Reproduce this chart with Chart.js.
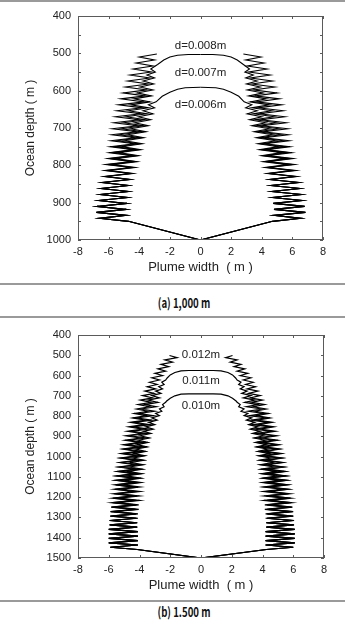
<!DOCTYPE html>
<html>
<head>
<meta charset="utf-8">
<script src="https://cdn.jsdelivr.net/npm/chart.js@4.4.1/dist/chart.umd.min.js"></script>
<style>
  body { margin: 0; background: #fff; width: 345px; height: 624px; position: relative; overflow: hidden; }
  .rule { position: absolute; left: 0; width: 345px; height: 2px; background: #9a9a9a; }
  canvas { position: absolute; left: 0; }
  .cap { position: absolute; left: 184px; transform: translate(-50%, -50%) scaleX(0.74);
         font-family: "Noto Sans CJK KR"; font-weight: 700; font-size: 13px; color: #111; white-space: nowrap; }
</style>
</head>
<body>
<div class="rule" style="top:0"></div>
<canvas id="c1" width="345" height="278" style="top:2px"></canvas>
<div class="rule" style="top:283px"></div>
<div class="cap" style="top:302px">(a) 1,000 m</div>
<div class="rule" style="top:316px"></div>
<canvas id="c2" width="345" height="278" style="top:320px"></canvas>
<div class="rule" style="top:600px"></div>
<div class="cap" style="top:611px">(b) 1.500 m</div>
<script>
// ---- (a) 1,000 m : depth of each vertex, plume half-width left / right ----
var c1Depth1 = [1000, 950, 942, 934, 926, 918, 910, 902, 894, 886, 878, 870, 862, 854, 846, 838, 830, 822, 814, 806, 798, 790, 782, 774, 766, 758, 750, 742, 734, 726, 718, 710, 702, 694, 686, 678, 670, 662, 654, 646, 638, 630, 622, 614, 606, 598, 590, 582, 574, 566, 558, 550, 542, 534, 526, 518, 510, 502];
var c1Left1 = [0, -4.7, -6.6, -4.85, -6.8, -4.85, -6.75, -4.8, -6.65, -4.75, -6.55, -4.7, -6.5, -4.7, -6.45, -4.65, -6.3, -4.6, -6.25, -4.55, -6.2, -4.5, -6.05, -4.45, -5.95, -4.4, -5.9, -4.3, -5.85, -4.25, -5.8, -4.15, -5.75, -4.1, -5.65, -4.0, -5.55, -3.9, -5.45, -3.8, -5.35, -3.7, -5.2, -3.6, -5.05, -3.5, -4.9, -3.4, -4.75, -3.3, -4.6, -3.2, -4.4, -3.1, -4.2, -3.0, -4.0, -2.85];
var c1Right1 = [0, 4.7, 6.55, 4.8, 6.85, 4.8, 6.8, 4.75, 6.65, 4.7, 6.6, 4.65, 6.5, 4.6, 6.45, 4.55, 6.3, 4.5, 6.25, 4.45, 6.15, 4.4, 6.05, 4.35, 5.95, 4.3, 5.85, 4.2, 5.8, 4.15, 5.75, 4.1, 5.7, 4.0, 5.6, 3.95, 5.5, 3.85, 5.4, 3.75, 5.3, 3.65, 5.15, 3.55, 5.0, 3.45, 4.85, 3.35, 4.7, 3.25, 4.55, 3.15, 4.35, 3.05, 4.15, 2.95, 3.95, 2.8];

var c1Depth2 = [1000, 950, 942, 934, 926, 918, 910, 902, 894, 886, 878, 870, 862, 854, 846, 838, 830, 822, 814, 806, 798, 790, 782, 774, 766, 758, 750, 742, 734, 726, 718, 710, 702, 694, 686, 678, 670, 662, 654, 646, 638, 630, 622, 614, 606, 598, 590, 582, 574, 566, 558, 550, 542, 530, 518, 510, 505, 503, 503];
var c1Left2 = [0, -4.7, -6.6, -4.85, -6.8, -4.85, -6.75, -4.8, -6.65, -4.75, -6.55, -4.7, -6.5, -4.7, -6.45, -4.6, -6.25, -4.5, -6.15, -4.4, -6.05, -4.3, -5.9, -4.2, -5.75, -4.1, -5.6, -4.0, -5.45, -3.9, -5.3, -3.8, -5.15, -3.7, -5.0, -3.6, -4.85, -3.5, -4.7, -3.4, -4.55, -3.3, -4.35, -3.2, -4.15, -3.1, -3.95, -3.05, -3.75, -3.0, -3.5, -2.95, -3.25, -2.8, -2.4, -2.0, -1.5, -0.8, 0];
var c1Right2 = [0, 4.7, 6.55, 4.8, 6.85, 4.8, 6.8, 4.75, 6.65, 4.7, 6.6, 4.65, 6.5, 4.6, 6.45, 4.5, 6.25, 4.45, 6.1, 4.35, 6.0, 4.25, 5.85, 4.15, 5.7, 4.05, 5.55, 3.95, 5.4, 3.85, 5.25, 3.75, 5.1, 3.65, 4.95, 3.55, 4.8, 3.45, 4.65, 3.35, 4.5, 3.25, 4.3, 3.15, 4.1, 3.05, 3.9, 3.0, 3.7, 2.95, 3.45, 2.9, 3.2, 2.8, 2.4, 2.0, 1.5, 0.8, 0];

var c1Depth3 = [1000, 950, 942, 934, 926, 918, 910, 902, 894, 886, 878, 870, 862, 854, 846, 838, 830, 822, 814, 806, 798, 790, 782, 774, 766, 758, 750, 742, 734, 726, 718, 710, 702, 694, 686, 678, 670, 662, 654, 646, 638, 630, 615, 604, 596, 592, 591];
var c1Left3 = [0, -4.7, -6.6, -4.85, -6.8, -4.85, -6.75, -4.8, -6.65, -4.75, -6.55, -4.7, -6.5, -4.7, -6.35, -4.55, -6.15, -4.4, -5.95, -4.25, -5.75, -4.15, -5.55, -4.05, -5.35, -3.9, -5.15, -3.8, -4.95, -3.7, -4.75, -3.55, -4.55, -3.4, -4.3, -3.25, -4.05, -3.1, -3.75, -3.0, -3.4, -2.9, -2.5, -2.0, -1.5, -1.0, 0];
var c1Right3 = [0, 4.7, 6.55, 4.8, 6.85, 4.8, 6.8, 4.75, 6.65, 4.7, 6.6, 4.65, 6.5, 4.6, 6.35, 4.5, 6.1, 4.35, 5.9, 4.2, 5.7, 4.1, 5.5, 4.0, 5.3, 3.85, 5.1, 3.75, 4.9, 3.65, 4.7, 3.5, 4.5, 3.35, 4.25, 3.2, 4.0, 3.05, 3.7, 2.95, 3.35, 2.85, 2.5, 2.0, 1.5, 1.0, 0];

var c1Labels = ['d=0.008m', 'd=0.007m', 'd=0.006m'];
var c1LabelDepth = [479, 552, 638];

// ---- (b) 1,500 m ----
var c2Depth1 = [1500, 1458, 1447, 1436, 1425, 1414, 1403, 1392, 1381, 1370, 1359, 1348, 1337, 1326, 1315, 1304, 1293, 1282, 1271, 1260, 1249, 1238, 1227, 1216, 1205, 1194, 1183, 1172, 1161, 1150, 1139, 1128, 1117, 1106, 1095, 1084, 1073, 1062, 1051, 1040, 1029, 1018, 1007, 996, 985, 974, 963, 952, 941, 930, 919, 908, 897, 886, 875, 864, 853, 842, 831, 820, 809, 798, 787, 776, 765, 754, 743, 732, 721, 710, 699, 688, 677, 666, 655, 644, 633, 622, 611, 600, 589, 578, 567, 556, 545, 534, 523, 512, 501];
var c2Left1 = [0, -4.15, -5.9, -4.1, -6.0, -4.1, -6.0, -4.1, -6.0, -4.1, -6.0,
  -4.15, -5.95, -4.15, -5.95, -4.2, -5.9, -4.25, -5.9, -4.3, -5.85,
  -4.35, -5.8, -4.4, -5.75, -4.45, -5.7, -4.45, -5.65, -4.45, -5.6,
  -4.45, -5.55, -4.4, -5.5, -4.4, -5.45, -4.35, -5.35, -4.3, -5.3,
  -4.25, -5.25, -4.2, -5.2, -4.15, -5.1, -4.1, -5.05, -4.0, -4.95,
  -3.95, -4.9, -3.85, -4.8, -3.8, -4.7, -3.7, -4.6, -3.6, -4.45,
  -3.55, -4.35, -3.45, -4.2, -3.35, -4.1, -3.25, -3.95, -3.15, -3.8,
  -3.05, -3.65, -2.95, -3.5, -2.85, -3.35, -2.7, -3.2, -2.5, -3.0,
  -2.3, -2.8, -2.1, -2.6, -1.85, -2.35, -1.55, -2.05];
var c2Right1 = [0, 4.25, 6.0, 4.2, 6.1, 4.2, 6.1, 4.2, 6.1, 4.2, 6.1,
  4.25, 6.05, 4.25, 6.05, 4.3, 6.0, 4.35, 6.0, 4.4, 5.95,
  4.45, 5.9, 4.5, 5.85, 4.5, 5.8, 4.5, 5.7, 4.5, 5.65,
  4.5, 5.6, 4.45, 5.55, 4.45, 5.5, 4.4, 5.4, 4.35, 5.35,
  4.3, 5.3, 4.25, 5.25, 4.2, 5.15, 4.15, 5.1, 4.05, 5.0,
  4.0, 4.95, 3.9, 4.85, 3.85, 4.75, 3.75, 4.65, 3.65, 4.5,
  3.6, 4.4, 3.5, 4.25, 3.4, 4.15, 3.3, 4.0, 3.2, 3.85,
  3.1, 3.7, 3.0, 3.55, 2.9, 3.4, 2.75, 3.25, 2.55, 3.05,
  2.35, 2.85, 2.15, 2.6, 1.9, 2.35, 1.6, 2.05];

var c2Depth2 = [1500, 1458, 1447, 1436, 1425, 1414, 1403, 1392, 1381, 1370, 1359, 1348, 1337, 1326, 1315, 1304, 1293, 1282, 1271, 1260, 1249, 1238, 1227, 1216, 1205, 1194, 1183, 1172, 1161, 1150, 1139, 1128, 1117, 1106, 1095, 1084, 1073, 1062, 1051, 1040, 1029, 1018, 1007, 996, 985, 974, 963, 952, 941, 930, 919, 908, 897, 886, 875, 864, 853, 842, 831, 820, 809, 798, 787, 776, 765, 754, 743, 732, 721, 710, 699, 688, 677, 666, 655, 644, 633, 622, 612, 597, 585, 577, 575, 575];
var c2Left2 = [0, -4.15, -5.9, -4.1, -6.0, -4.1, -6.0, -4.1, -6.0, -4.1, -6.0,
  -4.15, -5.95, -4.15, -5.95, -4.2, -5.9, -4.2, -5.85, -4.2, -5.8,
  -4.2, -5.75, -4.2, -5.7, -4.15, -5.65, -4.15, -5.6, -4.1, -5.55,
  -4.1, -5.5, -4.05, -5.45, -4.0, -5.35, -3.95, -5.3, -3.9, -5.2,
  -3.85, -5.15, -3.8, -5.05, -3.75, -4.95, -3.7, -4.85, -3.6, -4.75,
  -3.55, -4.65, -3.45, -4.55, -3.4, -4.45, -3.3, -4.35, -3.2, -4.2,
  -3.1, -4.05, -3.0, -3.9, -2.9, -3.65, -2.8, -3.45, -2.7, -3.2,
  -2.6, -2.95, -2.5, -2.75, -2.4, -2.55, -2.3,
  -2.2, -2.0, -1.7, -1.3, -0.8, 0];
var c2Right2 = [0, 4.25, 6.0, 4.2, 6.1, 4.2, 6.1, 4.2, 6.1, 4.2, 6.1,
  4.25, 6.05, 4.25, 6.05, 4.3, 6.0, 4.3, 5.95, 4.3, 5.9,
  4.3, 5.85, 4.3, 5.8, 4.25, 5.7, 4.25, 5.65, 4.2, 5.6,
  4.15, 5.55, 4.1, 5.5, 4.05, 5.4, 4.0, 5.35, 3.95, 5.25,
  3.9, 5.2, 3.85, 5.1, 3.8, 5.0, 3.75, 4.9, 3.65, 4.8,
  3.6, 4.7, 3.5, 4.6, 3.45, 4.5, 3.35, 4.4, 3.25, 4.25,
  3.15, 4.1, 3.05, 3.95, 2.95, 3.7, 2.85, 3.5, 2.75, 3.25,
  2.65, 3.0, 2.55, 2.8, 2.45, 2.6, 2.35,
  2.25, 2.05, 1.75, 1.3, 0.8, 0];

var c2Depth3 = [1500, 1458, 1447, 1436, 1425, 1414, 1403, 1392, 1381, 1370, 1359, 1348, 1337, 1326, 1315, 1304, 1293, 1282, 1271, 1260, 1249, 1238, 1227, 1216, 1205, 1194, 1183, 1172, 1161, 1150, 1139, 1128, 1117, 1106, 1095, 1084, 1073, 1062, 1051, 1040, 1029, 1018, 1007, 996, 985, 974, 963, 952, 941, 930, 919, 908, 897, 886, 875, 864, 853, 842, 831, 820, 809, 798, 787, 776, 765, 754, 743, 732, 727, 712, 700, 692, 690, 690];
var c2Left3 = [0, -4.15, -5.9, -4.1, -6.0, -4.1, -6.0, -4.1, -6.0, -4.1, -6.0,
  -4.15, -5.9, -4.15, -5.85, -4.1, -5.75, -4.1, -5.65, -4.05, -5.55,
  -4.05, -5.45, -4.0, -5.35, -4.0, -5.25, -3.95, -5.15, -3.95, -5.05,
  -3.9, -4.95, -3.9, -4.85, -3.85, -4.75, -3.8, -4.65, -3.75, -4.55,
  -3.7, -4.45, -3.65, -4.35, -3.6, -4.25, -3.5, -4.15, -3.45, -4.05,
  -3.35, -3.95, -3.25, -3.75, -3.1, -3.6, -3.0, -3.4, -2.85, -3.2,
  -2.7, -2.95, -2.55, -2.7, -2.4, -2.5, -2.3,
  -2.25, -2.0, -1.7, -1.3, -0.8, 0];
var c2Right3 = [0, 4.25, 6.0, 4.2, 6.1, 4.2, 6.1, 4.2, 6.1, 4.2, 6.1,
  4.25, 6.0, 4.25, 5.95, 4.2, 5.85, 4.2, 5.75, 4.15, 5.65,
  4.15, 5.55, 4.1, 5.45, 4.1, 5.35, 4.05, 5.25, 4.05, 5.15,
  4.0, 5.05, 4.0, 4.95, 3.95, 4.85, 3.9, 4.75, 3.85, 4.65,
  3.8, 4.55, 3.75, 4.45, 3.7, 4.35, 3.6, 4.25, 3.55, 4.15,
  3.45, 4.05, 3.35, 3.85, 3.2, 3.7, 3.1, 3.5, 2.95, 3.3,
  2.8, 3.05, 2.6, 2.8, 2.45, 2.55, 2.35,
  2.3, 2.05, 1.75, 1.3, 0.8, 0];

var c2Labels = ['0.012m', '0.011m', '0.010m'];
var c2LabelDepth = [499, 627, 749];

var xTicks = [-8, -6, -4, -2, 0, 2, 4, 6, 8];

function pts(xs, ys) {
  var out = [];
  var n = Math.min(xs.length, ys.length);
  if (xs.length != ys.length) console.log('length mismatch', xs.length, ys.length);
  for (var i = 0; i < n; i++) out.push({ x: xs[i], y: ys[i] });
  return out;
}

// box round the plot, inward ticks and the d= labels
var framePlugin = {
  id: 'frame',
  afterDraw: function (chart, args, opts) {
    var a = chart.chartArea, ctx = chart.ctx;
    var xs = chart.scales.x, ys = chart.scales.y;
    ctx.save();
    ctx.strokeStyle = '#5a5a5a';
    ctx.lineWidth = 1;
    ctx.strokeRect(a.left + 0.5, a.top + 0.5, a.right - a.left - 1, a.bottom - a.top - 1);
    ctx.beginPath();
    for (var v = ys.min; v <= ys.max; v += opts.yStep) {
      var py = Math.round(ys.getPixelForValue(v)) + 0.5;
      ctx.moveTo(a.left, py); ctx.lineTo(a.left + 3, py);
      ctx.moveTo(a.right, py); ctx.lineTo(a.right - 3, py);
    }
    xTicks.forEach(function (u) {
      var px = Math.round(xs.getPixelForValue(u)) + 0.5;
      ctx.moveTo(px, a.bottom); ctx.lineTo(px, a.bottom - 3);
      ctx.moveTo(px, a.top); ctx.lineTo(px, a.top + 3);
    });
    ctx.stroke();
    ctx.fillStyle = '#222';
    ctx.font = '11.5px "Liberation Sans"';
    ctx.textAlign = 'center';
    ctx.textBaseline = 'middle';
    opts.labels.forEach(function (t, i) {
      ctx.fillText(t, xs.getPixelForValue(0), ys.getPixelForValue(opts.depths[i]));
    });
    ctx.restore();
  }
};

function plumeChart(id, depthMax, yStep, padTop, padRight, lineW, bands, labels, depths) {
  var ds = bands.map(function (b) {
    return { data: b, showLine: true, borderColor: '#000', borderWidth: lineW, pointRadius: 0, tension: 0, fill: false };
  });
  return new Chart(document.getElementById(id), {
    type: 'scatter',
    data: { datasets: ds },
    options: {
      responsive: false,
      animation: false,
      devicePixelRatio: 1,
      layout: { padding: { top: padTop, right: padRight, left: 0, bottom: 0 } },
      plugins: {
        legend: { display: false },
        tooltip: { enabled: false },
        frame: { yStep: yStep, labels: labels, depths: depths }
      },
      scales: {
        x: {
          type: 'linear', min: -8, max: 8,
          ticks: { stepSize: 2, padding: 5, autoSkip: false, color: '#222',
                   font: { family: 'Liberation Sans', size: 11 }, callback: function (v) { return String(v); } },
          grid: { display: false, drawTicks: false },
          border: { display: false },
          title: { display: true, text: 'Plume width  ( m )', color: '#222',
                   font: { family: 'Liberation Sans', size: 13 }, padding: { top: 0, bottom: 5 } },
          afterFit: function (s) { s.height = 40; }
        },
        y: {
          type: 'linear', reverse: true, min: 400, max: depthMax,
          ticks: { stepSize: 100, padding: 7, autoSkip: false, color: '#222',
                   font: { family: 'Liberation Sans', size: 11 }, callback: function (v) { return String(v); } },
          grid: { display: false, drawTicks: false },
          border: { display: false },
          title: { display: true, text: 'Ocean depth ( m )', color: '#222',
                   font: { family: 'Liberation Sans', size: 12 }, padding: { top: 23, bottom: 0 } },
          afterFit: function (s) { s.width = 78; }
        }
      }
    },
    plugins: [framePlugin]
  });
}

plumeChart('c1', 1000, 50, 14, 22, 1.1, [
  pts(c1Left1, c1Depth1), pts(c1Right1, c1Depth1),
  pts(c1Left2, c1Depth2), pts(c1Right2, c1Depth2),
  pts(c1Left3, c1Depth3), pts(c1Right3, c1Depth3)
], c1Labels, c1LabelDepth);

plumeChart('c2', 1500, 100, 15, 21, 1.2, [
  pts(c2Left1, c2Depth1), pts(c2Right1, c2Depth1),
  pts(c2Left2, c2Depth2), pts(c2Right2, c2Depth2),
  pts(c2Left3, c2Depth3), pts(c2Right3, c2Depth3)
], c2Labels, c2LabelDepth);
</script>
</body>
</html>
